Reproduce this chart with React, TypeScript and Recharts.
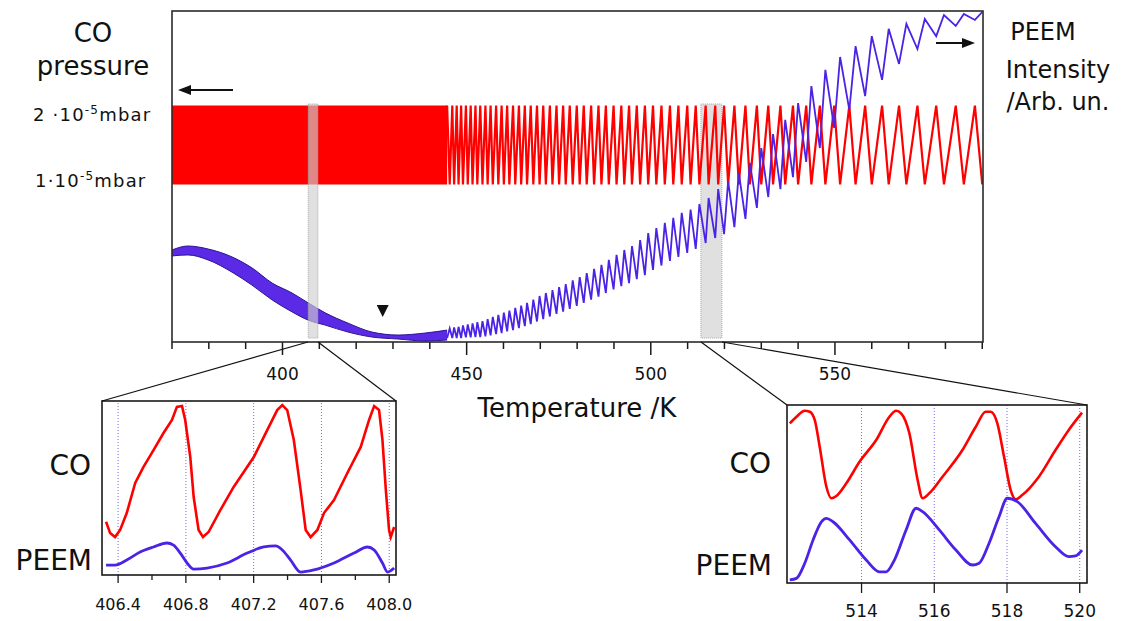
import React from 'react'
import {
  ComposedChart,
  LineChart,
  Line,
  Area,
  Scatter,
  XAxis,
  YAxis,
  ReferenceArea,
  ReferenceLine,
} from 'recharts'

const RED = '#ff0000'
const BLUE = '#4b22e6'
const FONT = '"DejaVu Sans", Verdana, sans-serif'
const INK = '#1a1a1a'

// ---- main scan --------------------------------------------------------
const tempTicks = [370, 380, 390, 400, 410, 420, 430, 440, 450, 460, 470, 480, 490, 500, 510, 520, 530, 540, 550, 560, 570, 580, 590]
const tempLabels = [400, 450, 500, 550]

// CO pressure levels (x 1e-5 mbar) the CO trace swings between
const coLow = 1
const coHigh = 2

// left part of the scan: oscillations too dense to resolve, only envelopes
const coBandT = [370, 444.7]
const denseT = [370.0, 374.3, 379.8, 386.3, 391.7, 397.2, 402.6, 407.0, 411.6, 417.8, 424.3, 431.4, 438.7, 444.7]
const peemBandTop = [27.8, 29.0, 28.1, 25.7, 22.4, 17.8, 14.8, 11.8, 8.8, 5.7, 3.0, 2.1, 2.7, 3.6]
const peemBandBottom = [26.0, 26.3, 24.8, 21.1, 17.2, 12.7, 9.1, 6.6, 5.1, 3.0, 1.5, 0.9, 0.3, 0.6]

// resolved oscillations: CO maxima coincide with PEEM minima and vice versa
const coMaxT = [444.7, 446.1, 447.3, 448.5, 449.8, 451.1, 452.4, 453.7, 455.1, 456.5, 458.0, 459.5, 461.0, 462.6, 464.2, 465.8, 467.4, 469.1, 470.8, 472.6, 474.4, 476.2, 478.0, 479.9, 481.8, 483.8, 485.8, 487.8, 489.9, 492.0, 494.1, 496.2, 498.4, 500.6, 502.9, 505.2, 507.5, 509.9, 512.2, 514.9, 517.5, 519.9, 522.7, 525.7, 528.8, 531.9, 535.2, 538.6, 542.2, 545.9, 549.8, 553.9, 558.2, 562.8, 567.4, 572.4, 577.5, 582.8, 588.0]
const peemAtCoMax = [1.2, 1.2, 1.2, 1.2, 1.4, 1.4, 1.5, 1.5, 1.7, 2.0, 2.4, 2.7, 3.2, 3.6, 4.2, 4.8, 5.4, 6.2, 6.9, 7.7, 8.5, 9.2, 10.0, 10.9, 11.8, 12.8, 13.7, 14.8, 15.9, 16.9, 17.8, 19.0, 20.2, 21.8, 23.1, 24.5, 25.7, 26.9, 28.1, 29.9, 31.4, 32.6, 34.7, 37.2, 40.5, 43.8, 46.2, 49.8, 54.4, 58.6, 64.7, 70.1, 74.3, 79.2, 84.0, 88.5, 92.4, 95.5, 97.3]
const coMinT = [445.4, 446.6, 447.8, 449.0, 450.3, 451.6, 452.9, 454.3, 455.7, 457.1, 458.6, 460.1, 461.6, 463.2, 464.8, 466.4, 468.1, 469.8, 471.5, 473.3, 475.1, 476.9, 478.8, 480.7, 482.6, 484.6, 486.6, 488.6, 490.7, 492.8, 494.9, 497.1, 499.3, 501.5, 503.8, 506.1, 508.4, 510.8, 513.2, 515.7, 518.3, 521.0, 523.9, 526.9, 530.0, 533.2, 536.5, 540.0, 543.6, 547.4, 551.4, 555.6, 560.0, 564.6, 569.4, 574.4, 579.6, 585.0, 590.0]
const peemAtCoMin = [4.1, 4.4, 4.6, 5.0, 5.3, 5.6, 6.0, 6.3, 6.9, 7.6, 8.2, 8.9, 9.5, 10.3, 11.0, 11.8, 12.8, 13.9, 14.8, 15.7, 16.6, 17.5, 18.6, 19.6, 20.8, 22.1, 23.3, 24.8, 26.3, 27.8, 29.0, 30.8, 32.9, 34.4, 36.0, 37.5, 39.0, 40.0, 41.7, 43.5, 46.2, 48.6, 51.1, 54.1, 58.6, 62.8, 67.1, 72.2, 77.3, 82.2, 86.1, 89.4, 92.4, 94.6, 96.1, 97.6, 98.8, 99.1, 99.7]

const markerT = [427.2]
const markerPeem = [9.4]
const zoomWindows = [[407.0, 409.6], [513.6, 519.3]]

// ---- left inset (406.3 - 408.0 K) -------------------------------------
const leftTicks = [406.4, 406.6, 406.8, 407.0, 407.2, 407.4, 407.6, 407.8, 408.0]
const leftLabels = [406.4, 406.8, 407.2, 407.6, 408.0]
const leftCoT = [406.329, 406.353, 406.382, 406.412, 406.451, 406.501, 406.550, 406.609, 406.668, 406.718, 406.747, 406.777, 406.796, 406.826, 406.846, 406.875, 406.901, 406.934, 407.004, 407.082, 407.201, 407.280, 407.339, 407.369, 407.398, 407.437, 407.477, 407.507, 407.536, 407.576, 407.615, 407.674, 407.753, 407.832, 407.881, 407.911, 407.940, 407.960, 407.980, 407.999, 408.009, 408.029]
const leftCo = [30.6, 24.1, 21.8, 25.9, 35.6, 52.9, 62.1, 71.8, 81.6, 89.1, 96.6, 97.1, 89.1, 67.8, 44.8, 25.9, 21.8, 24.7, 37.4, 50.6, 67.8, 83.3, 94.8, 97.7, 94.8, 77.6, 48.9, 25.9, 21.8, 25.9, 35.6, 43.1, 58.6, 73.6, 89.1, 97.1, 94.8, 77.6, 48.9, 25.9, 21.8, 27.6]
const leftPeemT = [406.329, 406.382, 406.451, 406.530, 406.609, 406.688, 406.727, 406.767, 406.807, 406.846, 406.925, 407.043, 407.162, 407.260, 407.329, 407.369, 407.418, 407.477, 407.556, 407.674, 407.792, 407.872, 407.911, 407.960, 407.990, 408.029]
const leftPeem = [5.7, 5.7, 8.6, 13.2, 16.1, 18.4, 17.2, 12.6, 6.9, 3.4, 4.0, 6.9, 12.6, 16.1, 16.7, 14.4, 8.6, 1.7, 2.9, 6.9, 12.6, 16.1, 14.4, 6.9, 1.7, 4.0]

// ---- right inset (512 - 520 K) ----------------------------------------
const rightTicks = [514, 516, 518, 520]
const rightCoT = [512.027, 512.211, 512.438, 512.575, 512.712, 512.849, 513.033, 513.170, 513.307, 513.581, 513.945, 514.403, 514.767, 514.951, 515.088, 515.315, 515.542, 515.679, 515.863, 516.227, 516.775, 517.142, 517.416, 517.553, 517.734, 517.918, 518.101, 518.238, 518.419, 518.877, 519.334, 519.699, 520.063]
const rightCo = [89.7, 93.4, 96.8, 96.2, 91.6, 76.6, 54.1, 47.6, 48.9, 56.0, 68.1, 80.3, 93.4, 96.8, 95.3, 84.1, 57.9, 47.6, 50.4, 59.7, 74.7, 87.8, 96.2, 96.2, 89.7, 71.0, 52.2, 47.0, 49.4, 59.7, 74.7, 86.0, 95.7]
const rightPeemT = [512.027, 512.211, 512.438, 512.667, 512.896, 513.033, 513.214, 513.671, 514.129, 514.493, 514.677, 514.904, 515.225, 515.499, 515.679, 516.137, 516.595, 517.049, 517.233, 517.507, 517.781, 518.008, 518.282, 518.786, 519.334, 519.699, 519.882, 520.063]
const rightPeem = [1.7, 2.6, 11.1, 24.2, 34.4, 36.3, 34.4, 24.2, 12.9, 6.3, 6.3, 12.9, 29.8, 42.0, 40.1, 29.8, 18.5, 10.1, 11.1, 22.3, 37.2, 47.6, 45.7, 33.5, 20.4, 14.8, 15.2, 18.5]

// rows for the library
const coBandRows = coBandT.map((t) => ({ t, co: [coLow, coHigh] }))
const peemBandRows = denseT.map((t, i) => ({ t, peem: [peemBandBottom[i], peemBandTop[i]] }))
const oscRows = [
  ...coMaxT.map((t, i) => ({ t, co: coHigh, peem: peemAtCoMax[i] })),
  ...coMinT.map((t, i) => ({ t, co: coLow, peem: peemAtCoMin[i] })),
].sort((a, b) => a.t - b.t)
const markerRows = markerT.map((t, i) => ({ t, peem: markerPeem[i] }))
const leftCoRows = leftCoT.map((t, i) => ({ t, v: leftCo[i] }))
const leftPeemRows = leftPeemT.map((t, i) => ({ t, v: leftPeem[i] }))
const rightCoRows = rightCoT.map((t, i) => ({ t, v: rightCo[i] }))
const rightPeemRows = rightPeemT.map((t, i) => ({ t, v: rightPeem[i] }))

function MainTick(props: any) {
  const { x, y, payload } = props
  const major = tempLabels.includes(payload.value)
  return (
    <g>
      <line x1={x} x2={x} y1={y} y2={y + (major ? 13 : 7)} stroke={INK} strokeWidth={1.5} />
      {major && (
        <text x={x} y={y + 38} textAnchor="middle" fontSize={17} fontFamily={FONT} fill="#111">
          {payload.value}
        </text>
      )}
    </g>
  )
}

function LeftTick(props: any) {
  const { x, y, payload } = props
  const major = leftLabels.includes(payload.value)
  return (
    <g>
      <line x1={x} x2={x} y1={y} y2={y + (major ? 8 : 5)} stroke={INK} strokeWidth={1.3} />
      {major && (
        <text x={x} y={y + 35} textAnchor="middle" fontSize={16} fontFamily={FONT} fill="#111">
          {payload.value.toFixed(1)}
        </text>
      )}
    </g>
  )
}

function RightTick(props: any) {
  const { x, y, payload } = props
  return (
    <g>
      <line x1={x} x2={x} y1={y} y2={y + 10} stroke={INK} strokeWidth={1.3} />
      <text x={x} y={y + 34} textAnchor="middle" fontSize={17} fontFamily={FONT} fill="#111">
        {payload.value}
      </text>
    </g>
  )
}

function Triangle(props: any) {
  const { cx, cy } = props
  return <polygon points={`${cx - 6},${cy - 6} ${cx + 6},${cy - 6} ${cx},${cy + 6}`} fill="#111" />
}

function MainChart() {
  return (
    <ComposedChart width={1122} height={400} margin={{ top: 11, right: 139, bottom: 13, left: 172 }}>
      <XAxis
        type="number"
        dataKey="t"
        domain={[370, 590.2]}
        allowDataOverflow
        ticks={tempTicks}
        interval={0}
        height={45}
        tick={<MainTick />}
        tickLine={false}
        tickSize={0}
        tickMargin={0}
        axisLine={false}
      />
      <YAxis yAxisId="co" type="number" domain={[-1, 3.2]} allowDataOverflow hide />
      <YAxis yAxisId="peem" type="number" domain={[0, 100]} allowDataOverflow hide />
      <Area
        yAxisId="co"
        data={coBandRows}
        dataKey="co"
        type="linear"
        fill={RED}
        fillOpacity={1}
        stroke="none"
        isAnimationActive={false}
      />
      <Line
        yAxisId="co"
        data={oscRows}
        dataKey="co"
        type="linear"
        stroke={RED}
        strokeWidth={2.2}
        dot={false}
        isAnimationActive={false}
      />
      <Area
        yAxisId="peem"
        data={peemBandRows}
        dataKey="peem"
        type="monotone"
        fill="#5a2ae6"
        fillOpacity={1}
        stroke="#2d1690"
        strokeWidth={1}
        isAnimationActive={false}
      />
      <Line
        yAxisId="peem"
        data={oscRows}
        dataKey="peem"
        type="linear"
        stroke={BLUE}
        strokeWidth={1.8}
        dot={false}
        isAnimationActive={false}
      />
      {zoomWindows.map(([a, b]) => (
        <ReferenceArea
          key={a}
          yAxisId="co"
          x1={a}
          x2={b}
          y1={-0.95}
          y2={2.02}
          fill="#cfcfcf"
          fillOpacity={0.65}
          stroke="#a8a8a8"
          strokeWidth={1}
          strokeDasharray="1 1"
        />
      ))}
      <Scatter yAxisId="peem" data={markerRows} dataKey="peem" shape={<Triangle />} isAnimationActive={false} />
    </ComposedChart>
  )
}

function LeftInset() {
  return (
    <LineChart width={440} height={231} margin={{ top: 11, right: 44, bottom: 6, left: 102 }}>
      <XAxis
        type="number"
        dataKey="t"
        domain={[406.305, 408.04]}
        allowDataOverflow
        ticks={leftTicks}
        interval={0}
        height={40}
        tick={<LeftTick />}
        tickLine={false}
        tickSize={0}
        tickMargin={0}
        axisLine={false}
      />
      <YAxis type="number" domain={[0, 100]} allowDataOverflow hide />
      {leftLabels.map((v) => (
        <ReferenceLine key={v} x={v} stroke="#7d68e8" strokeDasharray="1 2" strokeWidth={1} />
      ))}
      <Line data={leftCoRows} dataKey="v" type="linear" stroke={RED} strokeWidth={2.6} dot={false} isAnimationActive={false} />
      <Line data={leftPeemRows} dataKey="v" type="monotone" stroke={BLUE} strokeWidth={2.8} dot={false} isAnimationActive={false} />
    </LineChart>
  )
}

function RightInset() {
  return (
    <LineChart width={432} height={231} margin={{ top: 15, right: 35, bottom: 4, left: 97 }}>
      <XAxis
        type="number"
        dataKey="t"
        domain={[511.95, 520.2]}
        allowDataOverflow
        ticks={rightTicks}
        interval={0}
        height={34}
        tick={<RightTick />}
        tickLine={false}
        tickSize={0}
        tickMargin={0}
        axisLine={false}
      />
      <YAxis type="number" domain={[0, 100]} allowDataOverflow hide />
      {rightTicks.map((v) => (
        <ReferenceLine key={v} x={v} stroke="#7d68e8" strokeDasharray="1 2" strokeWidth={1} />
      ))}
      <Line data={rightCoRows} dataKey="v" type="monotone" stroke={RED} strokeWidth={2.6} dot={false} isAnimationActive={false} />
      <Line data={rightPeemRows} dataKey="v" type="monotone" stroke={BLUE} strokeWidth={2.8} dot={false} isAnimationActive={false} />
    </LineChart>
  )
}

const textStyle = { fontFamily: FONT, fill: '#111' }

export default function App() {
  return (
    <div style={{ position: 'fixed', left: 0, top: 0, width: 1122, height: 621, background: '#fff', overflow: 'hidden' }}>
      <div style={{ position: 'absolute', left: 0, top: 0 }}>
        <MainChart />
      </div>
      <div style={{ position: 'absolute', left: 0, top: 390 }}>
        <LeftInset />
      </div>
      <div style={{ position: 'absolute', left: 690, top: 390 }}>
        <RightInset />
      </div>
      <svg width={1122} height={621} style={{ position: 'absolute', left: 0, top: 0, pointerEvents: 'none' }}>
        {/* frames */}
        <rect x={172} y={11} width={811} height={331} fill="none" stroke="#2a2a2a" strokeWidth={1.6} />
        <rect x={102} y={401} width={294} height={174} fill="none" stroke="#1a1a1a" strokeWidth={1.6} />
        <rect x={787} y={405} width={300} height={178} fill="none" stroke="#1a1a1a" strokeWidth={1.6} />
        {/* zoom connectors */}
        <line x1={308} y1={342} x2={102} y2={401} stroke="#111" strokeWidth={1.2} />
        <line x1={318} y1={342} x2={396} y2={401} stroke="#111" strokeWidth={1.2} />
        <line x1={701} y1={342} x2={787} y2={405} stroke="#111" strokeWidth={1.2} />
        <line x1={722} y1={342} x2={1087} y2={405} stroke="#111" strokeWidth={1.2} />
        {/* axis arrows */}
        <line x1={188} y1={90} x2={233} y2={90} stroke="#111" strokeWidth={2} />
        <polygon points="178,90 191,85 191,95" fill="#111" />
        <line x1={936} y1={43} x2={964} y2={43} stroke="#111" strokeWidth={2} />
        <polygon points="975,43 962,38 962,48" fill="#111" />
        {/* labels */}
        <text x={93} y={42} textAnchor="middle" fontSize={26} style={textStyle}>CO</text>
        <text x={93} y={75} textAnchor="middle" fontSize={26} style={textStyle}>pressure</text>
        <text x={33} y={121} fontSize={18} letterSpacing={1.2} style={textStyle}>
          2 ·10<tspan fontSize={12} dy={-7}>-5</tspan><tspan dy={7}>mbar</tspan>
        </text>
        <text x={35} y={187} fontSize={18} letterSpacing={1.2} style={textStyle}>
          1·10<tspan fontSize={12} dy={-7}>-5</tspan><tspan dy={7}>mbar</tspan>
        </text>
        <text x={1043} y={40} textAnchor="middle" fontSize={24} style={textStyle}>PEEM</text>
        <text x={1058} y={78} textAnchor="middle" fontSize={24} style={textStyle}>Intensity</text>
        <text x={1058} y={110} textAnchor="middle" fontSize={24} style={textStyle}>/Arb. un.</text>
        <text x={577} y={417} textAnchor="middle" fontSize={26} style={textStyle}>Temperature /K</text>
        <text x={91} y={475} textAnchor="end" fontSize={28} style={textStyle}>CO</text>
        <text x={92} y={570} textAnchor="end" fontSize={28} style={textStyle}>PEEM</text>
        <text x={771} y={473} textAnchor="end" fontSize={28} style={textStyle}>CO</text>
        <text x={772} y={575} textAnchor="end" fontSize={28} style={textStyle}>PEEM</text>
      </svg>
    </div>
  )
}
